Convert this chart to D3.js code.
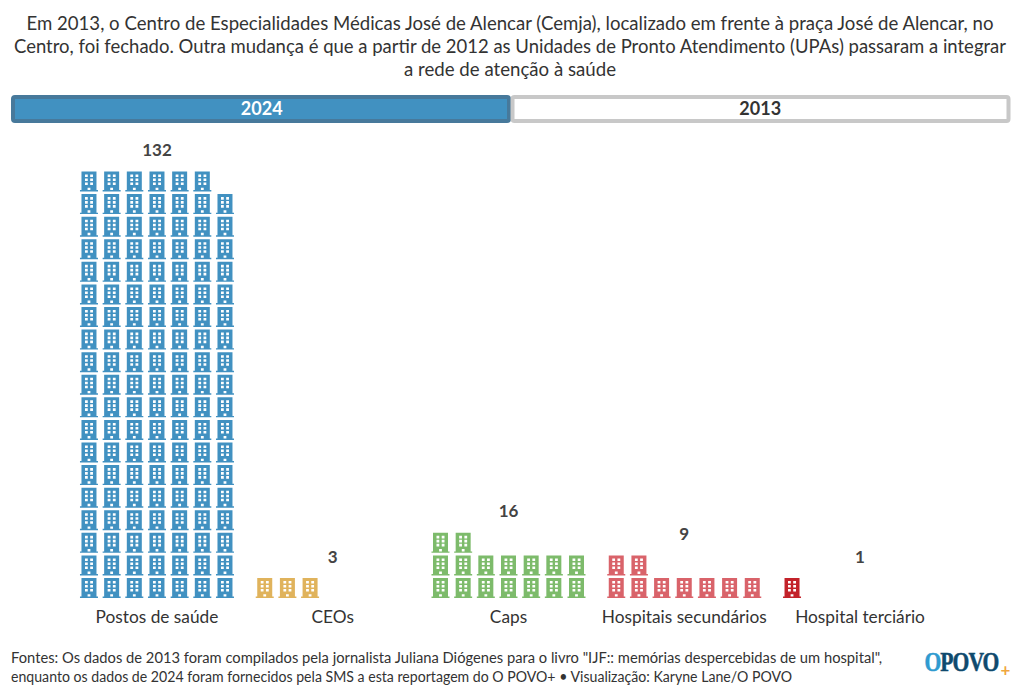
<!DOCTYPE html>
<html><head><meta charset="utf-8">
<script src="https://cdn.jsdelivr.net/npm/d3@7/dist/d3.min.js"></script>
<style>html,body{margin:0;padding:0;background:#fff}svg{display:block}text{font-family:Lato,"Noto Sans",sans-serif}</style>
</head><body><svg id="c" width="1020" height="696"></svg>
<script>
const titleLines=["Em 2013, o Centro de Especialidades Médicas José de Alencar (Cemja), localizado em frente à praça José de Alencar, no","Centro, foi fechado. Outra mudança é que a partir de 2012 as Unidades de Pronto Atendimento (UPAs) passaram a integrar","a rede de atenção à saúde"];
const years=["2024","2013"];
const categories=["Postos de saúde","CEOs","Caps","Hospitais secundários","Hospital terciário"];
const values=[132,3,16,9,1];
const colors=["#4191c1","#e0b35c","#7dbb6b","#d9636a","#c3222a"];
const footerLines=['Fontes: Os dados de 2013 foram compilados pela jornalista Juliana Diógenes para o livro "IJF:: memórias despercebidas de um hospital",','enquanto os dados de 2024 foram fornecidos pela SMS a esta reportagem do O POVO+ • Visualização: Karyne Lane/O POVO'];
const titleWidths=[967,992,212];
const footerWidths=[871,781];
const perRow=7;
const svg=d3.select("#c");
const ink="#333";
svg.append("g").selectAll("text").data(titleLines).join("text")
 .attr("x",510).attr("y",(d,i)=>29.5+i*23).attr("text-anchor","middle").attr("font-size",18.5).attr("fill",ink)
 .attr("textLength",(d,i)=>titleWidths[i]).attr("lengthAdjust","spacingAndGlyphs").text(d=>d);
const yearX=d3.scaleBand().domain(years).range([11,1010]);
const tg=svg.append("g").selectAll("g").data(years).join("g");
tg.append("rect").attr("x",d=>yearX(d)+2).attr("y",97).attr("width",yearX.bandwidth()-3.5).attr("height",24).attr("rx",2)
 .attr("fill",(d,i)=>i?"#fff":"#4191c1").attr("stroke",(d,i)=>i?"#c8c8c8":"#47799b").attr("stroke-width",4);
tg.append("text").attr("x",d=>yearX(d)+yearX.bandwidth()/2+(d==="2013"?0:1)).attr("y",115).attr("text-anchor","middle").attr("font-size",18).attr("font-weight",700)
 .attr("fill",(d,i)=>i?ink:"#fff").text(d=>d);
const x=d3.scaleBand().domain(categories).range([69.1,947.9]);
const col=d3.scaleLinear().domain([0,perRow-1]).range([-68,68]);
const row=d3.scaleLinear().domain([0,18]).range([588,181.5]);
const iconPath="M-7.5-10H7.5V8.6H9V10H-9V8.6H-7.5Z"+
 [-1,1].map(s=>[-7,-3,1].map(t=>`M${s*2.6-1.4} ${t}h2.8v2.6h-2.8Z`).join("")).join("")+"M-1.4 6.2h2.8V8.6h-2.8Z";
categories.forEach((c,k)=>{
  const cx=x(c)+x.bandwidth()/2;
  const n=values[k];
  const g=svg.append("g").attr("class","cat");
  g.selectAll("path").data(d3.range(n)).join("path")
   .attr("d",iconPath).attr("fill-rule","evenodd").attr("fill",colors[k])
   .attr("transform",i=>`translate(${cx+col(i%perRow)},${row(Math.floor(i/perRow))})`);
  const top=Math.floor((n-1)/perRow);
  g.append("text").attr("x",cx).attr("y",row(top)-25.5).attr("text-anchor","middle").attr("font-size",17).attr("font-weight",700).attr("fill","#444").text(n);
});
const ax=svg.append("g").attr("transform","translate(0,609)").call(d3.axisBottom(x).tickSize(0).tickPadding(0));
ax.select(".domain").remove();
ax.selectAll("text").attr("font-size",17.3).attr("fill",ink).attr("dy","0.75em").attr("y",1).style("font-family",'Lato,"Noto Sans",sans-serif');
svg.append("g").selectAll("text").data(footerLines).join("text")
 .attr("x",11).attr("y",(d,i)=>663+i*19).attr("font-size",14.6).attr("fill",ink)
 .attr("textLength",(d,i)=>footerWidths[i]).attr("lengthAdjust","spacingAndGlyphs").text(d=>d);
const logo=svg.append("text").attr("transform","translate(924.5,671) scale(0.8,1)").attr("font-size",27).attr("font-weight",700).attr("letter-spacing",-1.2).attr("stroke-width",0.5).style("font-family","'Liberation Serif',serif");
logo.append("tspan").attr("fill","#2f9bd0").attr("stroke","#2f9bd0").text("O");
logo.append("tspan").attr("fill","#0f4a6e").attr("stroke","#0f4a6e").text("POVO");
svg.append("text").attr("x",1000.5).attr("y",676).attr("font-size",17).attr("font-weight",700).attr("fill","#efa63f").text("+");
</script></body></html>
